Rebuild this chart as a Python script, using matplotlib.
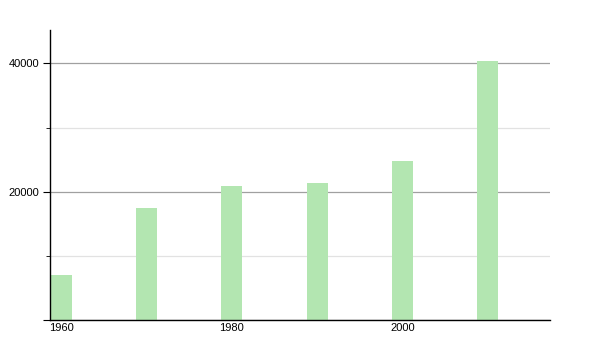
import matplotlib
matplotlib.use('Agg')
import matplotlib.pyplot as plt
from matplotlib.ticker import MultipleLocator

years = [1960, 1970, 1980, 1990, 2000, 2010]
population = [7000, 17450, 20900, 21350, 24800, 40350]
tick_years = [1960, 1980, 2000]

plt.rcParams['font.family'] = ['Liberation Sans', 'DejaVu Sans']

fig = plt.figure(figsize=(6, 3.5), dpi=100)
ax = fig.add_axes([50 / 600, 30 / 350, 500 / 600, 290 / 350])

ax.bar(years, population, width=2.45, color='#b3e6b1', zorder=2)

ax.set_xlim(1958.7, 2017.3)
ax.set_ylim(0, 45200)
ax.set_xticks(tick_years)
ax.set_xticklabels([str(y) for y in tick_years])
ax.yaxis.set_minor_locator(MultipleLocator(10000))
ax.set_yticks([0, 20000, 40000])
ax.set_yticklabels(['', '20000', '40000'])

ax.grid(axis='y', which='major', color='#a0a0a0', lw=0.9, zorder=1)
ax.grid(axis='y', which='minor', color='#e2e2e2', lw=0.9, zorder=1)

for s in ('top', 'right'):
    ax.spines[s].set_visible(False)
for s in ('left', 'bottom'):
    ax.spines[s].set_color('black')
    ax.spines[s].set_linewidth(1.0)

ax.tick_params(axis='x', length=0, labelsize=8, pad=2)
ax.tick_params(axis='y', which='major', length=5, labelsize=8, pad=3)
ax.tick_params(axis='y', which='minor', length=3)

fig.savefig('out.png', dpi=100, facecolor='white')
